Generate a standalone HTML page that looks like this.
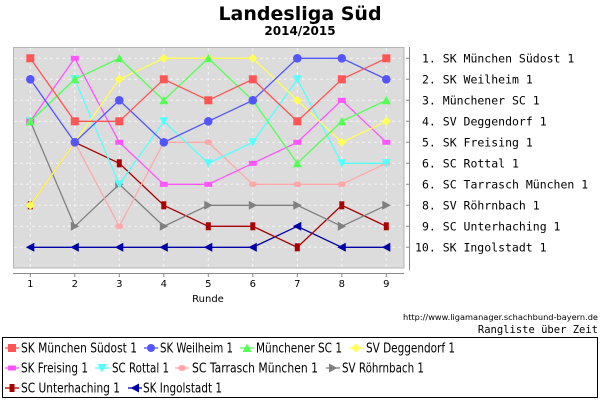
<!DOCTYPE html>
<html><head><meta charset="utf-8"><style>
html,body{margin:0;padding:0;background:#fff;}
svg{display:block;}
text{font-family:"DejaVu Sans","Liberation Sans",sans-serif;}
.m{font-family:"DejaVu Sans Mono","Liberation Mono",monospace;font-size:11.5px;fill:#000;}
.lg{font-size:13px;fill:#000;}
</style></head><body>
<svg width="600" height="400" viewBox="0 0 600 400" xmlns="http://www.w3.org/2000/svg">
<defs>
<marker id="mr" markerUnits="userSpaceOnUse" markerWidth="12" markerHeight="12" refX="6" refY="6"><rect x="2" y="2" width="8" height="8" fill="#ff5555"/></marker>
<marker id="mb" markerUnits="userSpaceOnUse" markerWidth="12" markerHeight="12" refX="6" refY="6"><circle cx="6" cy="6" r="4.3" fill="#5555ff"/></marker>
<marker id="mg" markerUnits="userSpaceOnUse" markerWidth="12" markerHeight="12" refX="6" refY="6"><polygon points="6,1.5 10.5,10 1.5,10" fill="#55ff55"/></marker>
<marker id="my" markerUnits="userSpaceOnUse" markerWidth="12" markerHeight="12" refX="6" refY="6"><polygon points="6,1.5 10.5,6 6,10.5 1.5,6" fill="#ffff55"/></marker>
<marker id="mm" markerUnits="userSpaceOnUse" markerWidth="12" markerHeight="12" refX="6" refY="6"><rect x="2" y="3.5" width="8" height="5" fill="#ff55ff"/></marker>
<marker id="mc" markerUnits="userSpaceOnUse" markerWidth="12" markerHeight="12" refX="6" refY="6"><polygon points="1.5,2 10.5,2 6,10.5" fill="#55ffff"/></marker>
<marker id="mp" markerUnits="userSpaceOnUse" markerWidth="12" markerHeight="12" refX="6" refY="6"><ellipse cx="6" cy="6" rx="4" ry="3" fill="#ffaaaa"/></marker>
<marker id="mk" markerUnits="userSpaceOnUse" markerWidth="12" markerHeight="12" refX="6" refY="6"><polygon points="2,1.5 10.5,6 2,10.5" fill="#808080"/></marker>
<marker id="md" markerUnits="userSpaceOnUse" markerWidth="12" markerHeight="12" refX="6" refY="6"><rect x="3.5" y="2" width="5" height="8" fill="#aa0000"/></marker>
<marker id="mn" markerUnits="userSpaceOnUse" markerWidth="12" markerHeight="12" refX="6" refY="6"><polygon points="10,1.5 1.5,6 10,10.5" fill="#0000aa"/></marker>
</defs>
<text x="300" y="20" text-anchor="middle" font-size="19" font-weight="bold">Landesliga Süd</text>
<text x="300" y="35" text-anchor="middle" font-size="12" font-weight="bold">2014/2015</text>
<rect x="13.5" y="47.5" width="390.5" height="220.5" fill="#dcdcdc" stroke="#b4b4b4"/>
<g stroke="#f4f4f4" stroke-dasharray="3,3" stroke-width="1">
<path d="M30.3 48V268M74.8 48V268M119.3 48V268M163.8 48V268M208.3 48V268M252.8 48V268M297.3 48V268M341.8 48V268M386.3 48V268"/>
<path d="M14 58.3H404M14 79.3H404M14 100.3H404M14 121.3H404M14 142.3H404M14 163.3H404M14 184.3H404M14 205.3H404M14 226.3H404M14 247.3H404"/>
</g>
<path d="M13 273.5H404M30.3 273V277M74.8 273V277M119.3 273V277M163.8 273V277M208.3 273V277M252.8 273V277M297.3 273V277M341.8 273V277M386.3 273V277" stroke="#888" fill="none"/>
<g font-size="10" text-anchor="middle" fill="#000">
<text x="30.3" y="287">1</text><text x="74.8" y="287">2</text><text x="119.3" y="287">3</text><text x="163.8" y="287">4</text><text x="208.3" y="287">5</text><text x="252.8" y="287">6</text><text x="297.3" y="287">7</text><text x="341.8" y="287">8</text><text x="386.3" y="287">9</text>
<text x="208" y="302">Runde</text>
</g>
<g fill="none" stroke-width="1.3">
<polyline stroke="#0000aa" marker-start="url(#mn)" marker-mid="url(#mn)" marker-end="url(#mn)" points="30.3,247.3 74.8,247.3 119.3,247.3 163.8,247.3 208.3,247.3 252.8,247.3 297.3,226.3 341.8,247.3 386.3,247.3"/>
<polyline stroke="#aa0000" marker-start="url(#md)" marker-mid="url(#md)" marker-end="url(#md)" points="30.3,205.3 74.8,142.3 119.3,163.3 163.8,205.3 208.3,226.3 252.8,226.3 297.3,247.3 341.8,205.3 386.3,226.3"/>
<polyline stroke="#808080" marker-start="url(#mk)" marker-mid="url(#mk)" marker-end="url(#mk)" points="30.3,121.3 74.8,226.3 119.3,184.3 163.8,226.3 208.3,205.3 252.8,205.3 297.3,205.3 341.8,226.3 386.3,205.3"/>
<polyline stroke="#ffaaaa" marker-start="url(#mp)" marker-mid="url(#mp)" marker-end="url(#mp)" points="30.3,205.3 74.8,142.3 119.3,226.3 163.8,142.3 208.3,142.3 252.8,184.3 297.3,184.3 341.8,184.3 386.3,163.3"/>
<polyline stroke="#55ffff" marker-start="url(#mc)" marker-mid="url(#mc)" marker-end="url(#mc)" points="30.3,121.3 74.8,79.3 119.3,184.3 163.8,121.3 208.3,163.3 252.8,142.3 297.3,79.3 341.8,163.3 386.3,163.3"/>
<polyline stroke="#ff55ff" marker-start="url(#mm)" marker-mid="url(#mm)" marker-end="url(#mm)" points="30.3,121.3 74.8,58.3 119.3,142.3 163.8,184.3 208.3,184.3 252.8,163.3 297.3,142.3 341.8,100.3 386.3,142.3"/>
<polyline stroke="#ffff55" marker-start="url(#my)" marker-mid="url(#my)" marker-end="url(#my)" points="30.3,205.3 74.8,142.3 119.3,79.3 163.8,58.3 208.3,58.3 252.8,58.3 297.3,100.3 341.8,142.3 386.3,121.3"/>
<polyline stroke="#55ff55" marker-start="url(#mg)" marker-mid="url(#mg)" marker-end="url(#mg)" points="30.3,121.3 74.8,79.3 119.3,58.3 163.8,100.3 208.3,58.3 252.8,100.3 297.3,163.3 341.8,121.3 386.3,100.3"/>
<polyline stroke="#5555ff" marker-start="url(#mb)" marker-mid="url(#mb)" marker-end="url(#mb)" points="30.3,79.3 74.8,142.3 119.3,100.3 163.8,142.3 208.3,121.3 252.8,100.3 297.3,58.3 341.8,58.3 386.3,79.3"/>
<polyline stroke="#ff5555" marker-start="url(#mr)" marker-mid="url(#mr)" marker-end="url(#mr)" points="30.3,58.3 74.8,121.3 119.3,121.3 163.8,79.3 208.3,100.3 252.8,79.3 297.3,121.3 341.8,79.3 386.3,58.3"/>
</g>
<path d="M409.5 47V270M406 58.3H409M406 79.3H409M406 100.3H409M406 121.3H409M406 142.3H409M406 163.3H409M406 184.3H409M406 205.3H409M406 226.3H409M406 247.3H409" stroke="#888" fill="none"/>
<text class="m" x="422" y="62.5">1. SK München Südost 1</text>
<text class="m" x="422" y="83.5">2. SK Weilheim 1</text>
<text class="m" x="422" y="104.5">3. Münchener SC 1</text>
<text class="m" x="422" y="125.5">4. SV Deggendorf 1</text>
<text class="m" x="422" y="146.5">5. SK Freising 1</text>
<text class="m" x="422" y="167.5">6. SC Rottal 1</text>
<text class="m" x="422" y="188.5">6. SC Tarrasch München 1</text>
<text class="m" x="422" y="209.5">8. SV Röhrnbach 1</text>
<text class="m" x="422" y="230.5">9. SC Unterhaching 1</text>
<text class="m" x="415" y="251.5">10. SK Ingolstadt 1</text>
<text x="598" y="320" text-anchor="end" font-size="8" textLength="195" lengthAdjust="spacingAndGlyphs">http://www.ligamanager.schachbund-bayern.de</text>
<text class="m" x="598" y="333" text-anchor="end" style="font-size:10.5px">Rangliste über Zeit</text>
<rect x="2.5" y="337.5" width="595" height="60" fill="#fff" stroke="#000"/>
<g stroke-width="1.3">
<line x1="5" y1="348" x2="19" y2="348" stroke="#ff5555"/>
<line x1="144" y1="348" x2="158" y2="348" stroke="#5555ff"/>
<line x1="240" y1="348" x2="254" y2="348" stroke="#55ff55"/>
<line x1="349" y1="348" x2="363" y2="348" stroke="#ffff55"/>
<line x1="5" y1="368" x2="19" y2="368" stroke="#ff55ff"/>
<line x1="95" y1="368" x2="109" y2="368" stroke="#55ffff"/>
<line x1="175" y1="368" x2="189" y2="368" stroke="#ffaaaa"/>
<line x1="326" y1="368" x2="340" y2="368" stroke="#808080"/>
<line x1="5" y1="388" x2="19" y2="388" stroke="#aa0000"/>
<line x1="128" y1="388" x2="142" y2="388" stroke="#0000aa"/>
</g>
<rect x="8" y="344" width="8" height="8" fill="#ff5555"/>
<circle cx="151" cy="348" r="4" fill="#5555ff"/>
<polygon points="247,343.5 251.5,352 242.5,352" fill="#55ff55"/>
<polygon points="356,343.5 360.5,348 356,352.5 351.5,348" fill="#ffff55"/>
<rect x="8" y="365.5" width="8" height="5" fill="#ff55ff"/>
<polygon points="97.5,364 106.5,364 102,372.5" fill="#55ffff"/>
<ellipse cx="182" cy="368" rx="4" ry="3" fill="#ffaaaa"/>
<polygon points="329,363.5 337.5,368 329,372.5" fill="#808080"/>
<rect x="9.5" y="384" width="5" height="8" fill="#aa0000"/>
<polygon points="139,383.5 130.5,388 139,392.5" fill="#0000aa"/>
<g class="lg">
<text x="21" y="352.5" textLength="116" lengthAdjust="spacingAndGlyphs">SK München Südost 1</text>
<text x="160" y="352.5" textLength="73" lengthAdjust="spacingAndGlyphs">SK Weilheim 1</text>
<text x="256" y="352.5" textLength="86" lengthAdjust="spacingAndGlyphs">Münchener SC 1</text>
<text x="366" y="352.5" textLength="89" lengthAdjust="spacingAndGlyphs">SV Deggendorf 1</text>
<text x="21" y="372.5" textLength="67" lengthAdjust="spacingAndGlyphs">SK Freising 1</text>
<text x="112" y="372.5" textLength="57" lengthAdjust="spacingAndGlyphs">SC Rottal 1</text>
<text x="192" y="372.5" textLength="126" lengthAdjust="spacingAndGlyphs">SC Tarrasch München 1</text>
<text x="342" y="372.5" textLength="82" lengthAdjust="spacingAndGlyphs">SV Röhrnbach 1</text>
<text x="21" y="392.5" textLength="99" lengthAdjust="spacingAndGlyphs">SC Unterhaching 1</text>
<text x="143" y="392.5" textLength="79" lengthAdjust="spacingAndGlyphs">SK Ingolstadt 1</text>
</g>
</svg>
</body></html>
